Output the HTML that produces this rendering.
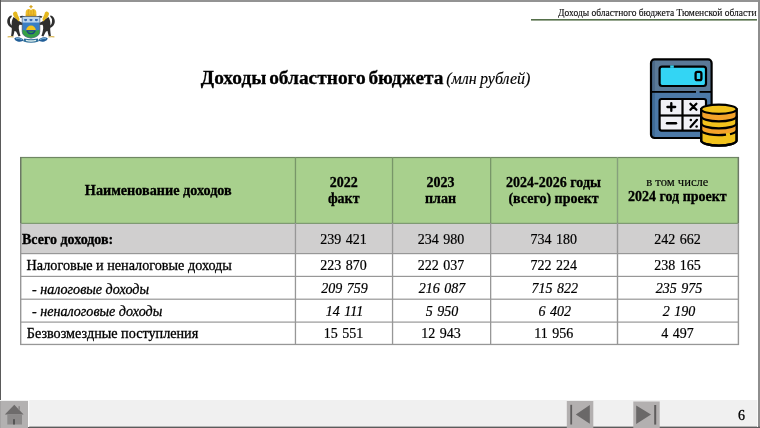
<!DOCTYPE html>
<html><head><meta charset="utf-8">
<style>
html,body{margin:0;padding:0;background:#fff;width:760px;height:428px;overflow:hidden}
svg{display:block;will-change:transform}
text{font-family:"Liberation Serif",serif;stroke:#000;stroke-width:0.3px}
.n text{stroke-width:0.2px}
</style></head><body>
<svg width="760" height="428" viewBox="0 0 760 428">
<!-- frame -->
<rect x="0" y="0" width="760" height="428" fill="#fff"/>
<rect x="0" y="0" width="760" height="2" fill="#939393"/>
<rect x="0" y="0" width="1" height="401" fill="#5a5a5a"/>
<rect x="758" y="0" width="2" height="428" fill="#8e8e8e"/>

<!-- top-right header -->
<text x="756.5" y="15.5" font-size="9.5" text-anchor="end" fill="#111" style="stroke-width:0.12px">Доходы областного бюджета Тюменской области</text>
<rect x="531" y="19" width="226" height="1.6" fill="#55704a"/>

<!-- coat of arms -->
<g id="coa" stroke="none">
  <!-- gold ground -->
  <path d="M7.6 36.2 Q10.5 35.6 13.6 36.4 L13.6 37.5 Q10.5 36.9 7.6 37.5Z" fill="#d9b85a"/>
  <path d="M54.4 36.2 Q51.5 35.6 48.4 36.4 L48.4 37.5 Q51.5 36.9 54.4 37.5Z" fill="#d9b85a"/>
  <g>
    <path d="M12.6 28.2 Q6.8 26 7.2 21 Q7.6 16.6 11 15.4 Q12.4 15.4 11.8 16.6 Q9.8 18.4 10 21.4 Q10.2 25 13 26.2Z" fill="#2e2e2e"/>
    <path d="M13.5 17 Q17 19 19 21 L22.6 23.1 L22.6 24.9 L19.5 24.8 Q18.6 26 18.8 28.5 Q19.2 31 19.8 33.5 L20.6 35.8 L18.6 36.5 Q17.4 34 16.2 31.8 Q15 30.8 14.5 31 Q14 33.5 13.2 36.3 L11.1 36 Q11.6 32.5 11.8 29.5 Q11.3 25 11.8 21.5 Q12.4 18.5 13.5 17Z" fill="#2e2e2e"/>
    <path d="M13 13.2 Q13.8 11.2 15.8 11.5 Q17.4 12.2 17.6 14.6 L19.4 18.6 Q19.8 20.8 18.6 21.6 L16.8 19.4 Q15 17.8 13.9 16.4 Q13 15 13 13.2Z" fill="#e4b71e"/>
    <path d="M19.6 16.4 Q22 15.4 24.6 16.2 L24.6 17.6 Q22.4 17.2 20.4 17.8Z" fill="#2e2e2e"/>
  </g>
  <g transform="translate(62,0) scale(-1,1)">
    <path d="M12.6 28.2 Q6.8 26 7.2 21 Q7.6 16.6 11 15.4 Q12.4 15.4 11.8 16.6 Q9.8 18.4 10 21.4 Q10.2 25 13 26.2Z" fill="#2e2e2e"/>
    <path d="M13.5 17 Q17 19 19 21 L22.6 23.1 L22.6 24.9 L19.5 24.8 Q18.6 26 18.8 28.5 Q19.2 31 19.8 33.5 L20.6 35.8 L18.6 36.5 Q17.4 34 16.2 31.8 Q15 30.8 14.5 31 Q14 33.5 13.2 36.3 L11.1 36 Q11.6 32.5 11.8 29.5 Q11.3 25 11.8 21.5 Q12.4 18.5 13.5 17Z" fill="#2e2e2e"/>
    <path d="M13 13.2 Q13.8 11.2 15.8 11.5 Q17.4 12.2 17.6 14.6 L19.4 18.6 Q19.8 20.8 18.6 21.6 L16.8 19.4 Q15 17.8 13.9 16.4 Q13 15 13 13.2Z" fill="#e4b71e"/>
    <path d="M19.6 16.4 Q22 15.4 24.6 16.2 L24.6 17.6 Q22.4 17.2 20.4 17.8Z" fill="#2e2e2e"/>
  </g>
  <!-- crown -->
  <rect x="30.3" y="5.2" width="1.4" height="3.2" fill="#d6a41e"/>
  <rect x="29.4" y="6" width="3.2" height="1.2" fill="#d6a41e"/>
  <path d="M25.8 15.2 Q25 10.2 27.6 9.2 Q29.8 8.4 31 10.2 Q32.2 8.4 34.4 9.2 Q37 10.2 36.2 15.2Z" fill="#efbf2c"/>
  <path d="M28.6 9.6 Q28 12 28.4 15 M31 10.4 V15 M33.4 9.6 Q34 12 33.6 15" stroke="#c9961a" stroke-width="0.6" fill="none"/>
  <rect x="25.6" y="14.6" width="10.8" height="2" fill="#d9a620"/>
  <!-- shield -->
  <path d="M22.2 16.6 L39.8 16.6 L39.8 31.5 Q39.8 36.8 31 38.2 Q22.2 36.8 22.2 31.5Z" fill="#3a7ec4" stroke="#4a5560" stroke-width="0.7"/>
  <path d="M22.55 30 Q26 29.8 28 31.6 Q31 33.6 34 31.6 Q36 29.8 39.45 30 L39.45 31.5 Q39.45 36.5 31 37.85 Q22.55 36.5 22.55 31.5Z" fill="#35a044"/>
  <rect x="22.55" y="16.95" width="16.9" height="5.6" fill="#bcd6ee"/>
  <path d="M24.2 19 h2.8 v1.4 q-1.4 1.6 -2.8 0Z M29.6 19 h2.8 v1.4 q-1.4 1.6 -2.8 0Z M35 19 h2.8 v1.4 q-1.4 1.6 -2.8 0Z" fill="#3a6cb2"/>
  <path d="M26.2 30.3 A4.8 4.8 0 0 1 35.8 30.3Z" fill="#f3c41c"/>
  <path d="M26.2 30.3 L35.8 30.3 Q35.6 32.8 33.4 33.9 Q31 34.6 28.6 33.9 Q26.4 32.8 26.2 30.3Z" fill="#1c3f80"/>
  <path d="M27.8 31.2 L34.2 31.2 Q33.6 32.8 31 33.2 Q28.4 32.8 27.8 31.2Z" fill="#2b9a4a"/>
  <!-- ribbon -->
  <path d="M14.2 38.6 Q16 36.8 19.6 37.6 Q23 38.4 24 40.6 Q21 42.2 17.6 41.4 Q14.6 40.6 14.2 38.6Z" fill="#215e98"/>
  <path d="M47.8 38.6 Q46 36.8 42.4 37.6 Q39 38.4 38 40.6 Q41 42.2 44.4 41.4 Q47.4 40.6 47.8 38.6Z" fill="#215e98"/>
  <path d="M16 38.6 Q19 38 22.2 39.6" fill="none" stroke="#9fd0ea" stroke-width="0.7"/>
  <path d="M46 38.6 Q43 38 39.8 39.6" fill="none" stroke="#9fd0ea" stroke-width="0.7"/>
  <path d="M24.2 38.6 Q31 40 37.8 38.6 L38.6 41.4 Q31 44.2 23.4 41.4Z" fill="#2f6f9a"/>
  <path d="M26 39.8 Q31 40.8 36 39.8 L36.2 40.9 Q31 42.5 25.8 40.9Z" fill="#dff0ee"/>
</g>

<!-- title -->
<text x="200.8" y="83.5" font-size="19.4" font-weight="bold" fill="#000" word-spacing="-2.1">Доходы областного бюджета <tspan font-weight="normal" font-style="italic" font-size="16" word-spacing="-0.6" style="stroke-width:0.15px">(млн рублей)</tspan></text>

<!-- calculator icon -->
<g id="calc">
  <rect x="651" y="59.4" width="60.6" height="78.6" rx="3.5" fill="#4c79a7"/>
  <path d="M651 91.9 V62.9 A3.5 3.5 0 0 1 654.5 59.4 H708.1 A3.5 3.5 0 0 1 711.6 62.9 V91.9Z" fill="#5a7997"/>
  <rect x="652" y="61" width="3" height="30.5" fill="#4b6a8a"/>
  <rect x="652" y="92.5" width="3" height="44.5" fill="#3f6b96"/>
  <rect x="651" y="59.4" width="60.6" height="78.6" rx="3.5" fill="none" stroke="#000" stroke-width="2.2"/>
  <rect x="659.6" y="66.6" width="46.4" height="19.4" rx="2.5" fill="#33d5f4" stroke="#000" stroke-width="2.2"/>
  <rect x="670.2" y="65.4" width="3.6" height="2.4" fill="#33d5f4"/>
  <rect x="695.6" y="71.8" width="5.8" height="8.4" rx="1.8" fill="none" stroke="#000" stroke-width="2.3"/>
  <rect x="651" y="91" width="45" height="1.8" fill="#000"/>
  <rect x="699.6" y="91" width="12" height="1.8" fill="#000"/>
  <rect x="659.6" y="99" width="46.4" height="31.6" rx="2" fill="#f1f1f6" stroke="#000" stroke-width="2.2"/>
  <rect x="681.4" y="99" width="2.2" height="31.6" fill="#000"/>
  <rect x="659.6" y="114.4" width="46.4" height="2.2" fill="#000"/>
  <!-- plus -->
  <path d="M667.4 107 H675.2 M671.3 103.1 V110.9" stroke="#000" stroke-width="2.3" stroke-linecap="round"/>
  <!-- times -->
  <path d="M690.4 103.8 L696.4 109.8 M696.4 103.8 L690.4 109.8" stroke="#000" stroke-width="2.3" stroke-linecap="round"/>
  <!-- minus -->
  <path d="M667 123.2 H676" stroke="#000" stroke-width="2.4" stroke-linecap="round"/>
  <!-- percent -->
  <path d="M690.5 127 L697 119.8" stroke="#000" stroke-width="2.2" stroke-linecap="round"/>
  <circle cx="690.8" cy="120" r="1.25" fill="#000"/>
  <circle cx="696.6" cy="126.6" r="1.25" fill="#000"/>
  <!-- coins -->
  <g stroke="#000" stroke-width="2.2">
    <path d="M701.2 109.2 V140.5 A17.5 5 0 0 0 736.6 140.5 V109.2Z" fill="#f2c21c"/>
    <path d="M701.2 111 V116 A17.5 5 0 0 0 736.6 116 V111Z" fill="#f4a22a" stroke="none"/>
    <path d="M701.2 124 V129 A17.5 5 0 0 0 736.6 129 V124 A17.5 5 0 0 1 701.2 124Z" fill="#f4a22a" stroke="none"/>
    <path d="M701.2 116.3 A17.5 5 0 0 0 736.6 116.3" fill="none"/>
    <path d="M701.2 123.3 A17.5 5 0 0 0 736.6 123.3" fill="none"/>
    <path d="M701.2 130.3 A17.5 5 0 0 0 726 134.6 M730 134.2 A17.5 5 0 0 0 736.6 130.3" fill="none"/>
    <path d="M701.2 109.2 V140.5 A17.5 5 0 0 0 736.6 140.5 V109.2" fill="none"/>
    <ellipse cx="718.9" cy="109.2" rx="17.7" ry="4.6" fill="#f2c21c"/>
  </g>
</g>

<!-- table backgrounds -->
<rect x="20" y="157" width="719" height="67" fill="#a8d08d"/>
<rect x="20" y="224" width="719" height="30" fill="#d0cfcf"/>
<!-- table lines -->
<g fill="#979797">
  <rect x="20" y="156.9" width="719" height="1.2" fill="#6f8763"/>
  <rect x="20" y="222.8" width="719" height="1.1" fill="#7a9470"/>
  <rect x="20" y="253" width="719" height="1.2"/>
  <rect x="20" y="275.8" width="719" height="1.2"/>
  <rect x="20" y="298.6" width="719" height="1.2"/>
  <rect x="20" y="321.5" width="719" height="1.2"/>
  <rect x="20" y="343.8" width="719" height="1.3"/>
  <g fill="#789669">
    <rect x="20" y="157" width="1.5" height="66" fill="#6c7866"/>
    <rect x="294.8" y="157" width="1.3" height="66"/>
    <rect x="391.9" y="157" width="1.3" height="66"/>
    <rect x="490" y="157" width="1.3" height="66"/>
    <rect x="616.8" y="157" width="1.4" height="66" fill="#86a07c"/>
    <rect x="737.6" y="157" width="1.5" height="66" fill="#6c7866"/>
  </g>
  <rect x="20" y="223" width="1.4" height="122"/>
  <rect x="294.8" y="223" width="1.3" height="122"/>
  <rect x="391.9" y="223" width="1.3" height="122"/>
  <rect x="490" y="223" width="1.3" height="122"/>
  <rect x="616.8" y="223" width="1.4" height="122"/>
  <rect x="737.7" y="223" width="1.4" height="122"/>
</g>

<!-- header text -->
<g font-size="14" font-weight="bold" fill="#000" text-anchor="middle">
  <text x="158.3" y="194.7" font-size="14.2">Наименование доходов</text>
  <text x="343.7" y="186.8">2022</text>
  <text x="343.7" y="202.8">факт</text>
  <text x="440.5" y="186.8">2023</text>
  <text x="440.5" y="202.8">план</text>
  <text x="553.5" y="186.8">2024-2026 годы</text>
  <text x="553.5" y="202.6">(всего) проект</text>
  <text x="677.3" y="186.4" font-weight="normal" font-size="12.6" style="stroke-width:0.15px">в том числе</text>
  <text x="677.3" y="201.4">2024 год проект</text>
</g>

<!-- body text -->
<g font-size="14" fill="#000">
  <text x="22" y="244.2" font-weight="bold">Всего доходов:</text>
  <text x="26.6" y="269.8" font-size="14.2">Налоговые и неналоговые доходы</text>
  <text x="32" y="293.6" font-style="italic" font-size="14.1"> - налоговые доходы</text>
  <text x="32" y="316.2" font-style="italic" font-size="14.1"> - неналоговые доходы</text>
  <text x="26.8" y="337.6" font-size="14.2">Безвозмездные поступления</text>
</g>
<g font-size="14" fill="#000" text-anchor="middle" word-spacing="1" class="n">
  <text x="343.5" y="244.2">239 421</text>
  <text x="441" y="244.2">234 980</text>
  <text x="553.7" y="244.2">734 180</text>
  <text x="677.5" y="244.2">242 662</text>

  <text x="343.5" y="269.8">223 870</text>
  <text x="441" y="269.8">222 037</text>
  <text x="553.7" y="269.8">722 224</text>
  <text x="677.5" y="269.8">238 165</text>

  <g font-style="italic">
  <text x="344.5" y="293.1">209 759</text>
  <text x="442.0" y="293.1">216 087</text>
  <text x="554.7" y="293.1">715 822</text>
  <text x="679.0" y="293.1">235 975</text>

  <text x="344.5" y="316.4">14 111</text>
  <text x="442.0" y="316.4">5 950</text>
  <text x="554.7" y="316.4">6 402</text>
  <text x="679.0" y="316.4">2 190</text>
  </g>

  <text x="343.5" y="337.6">15 551</text>
  <text x="441" y="337.6">12 943</text>
  <text x="553.7" y="337.6">11 956</text>
  <text x="677.5" y="337.6">4 497</text>
</g>

<!-- bottom bar -->
<rect x="0" y="400" width="758" height="28" fill="#f0f0f0"/>
<rect x="0" y="426.6" width="760" height="1.4" fill="#5c5c5c"/>
<rect x="757" y="400" width="1" height="27" fill="#fafafa"/>
<!-- home button -->
<rect x="0" y="401" width="28" height="27" fill="#b3b1b1"/>
<rect x="0" y="401" width="1" height="27" fill="#a6a4a4"/>
<rect x="28" y="400" width="1.2" height="27" fill="#fafafa"/>
<path d="M4.8 414.5 L14.3 404.8 L23.6 414.5Z" fill="#6e6c6c"/>
<rect x="18.4" y="406.2" width="1.6" height="3.6" fill="#8a8888"/>
<rect x="7.3" y="414.5" width="14.7" height="10" fill="#8c8a8a"/>
<rect x="13" y="419.2" width="2" height="5.3" fill="#555"/>
<!-- prev button -->
<rect x="566.8" y="401" width="26.5" height="27" fill="#b3b0b0"/>
<rect x="570.3" y="404.8" width="1.8" height="19.7" fill="#5f5d5d"/>
<path d="M575.8 414.5 L589.8 405 L589.8 423.8Z" fill="#6a6868"/>
<!-- next button -->
<rect x="633.3" y="401.5" width="26.4" height="26.5" fill="#b3b0b0"/>
<path d="M636.2 405.6 L651 414.6 L636.2 424Z" fill="#6a6868"/>
<rect x="654.2" y="405" width="2" height="19.6" fill="#5f5d5d"/>
<!-- page number -->
<text x="741.5" y="420" font-size="14" text-anchor="middle" fill="#000" stroke="none">6</text>
</svg>
</body></html>
